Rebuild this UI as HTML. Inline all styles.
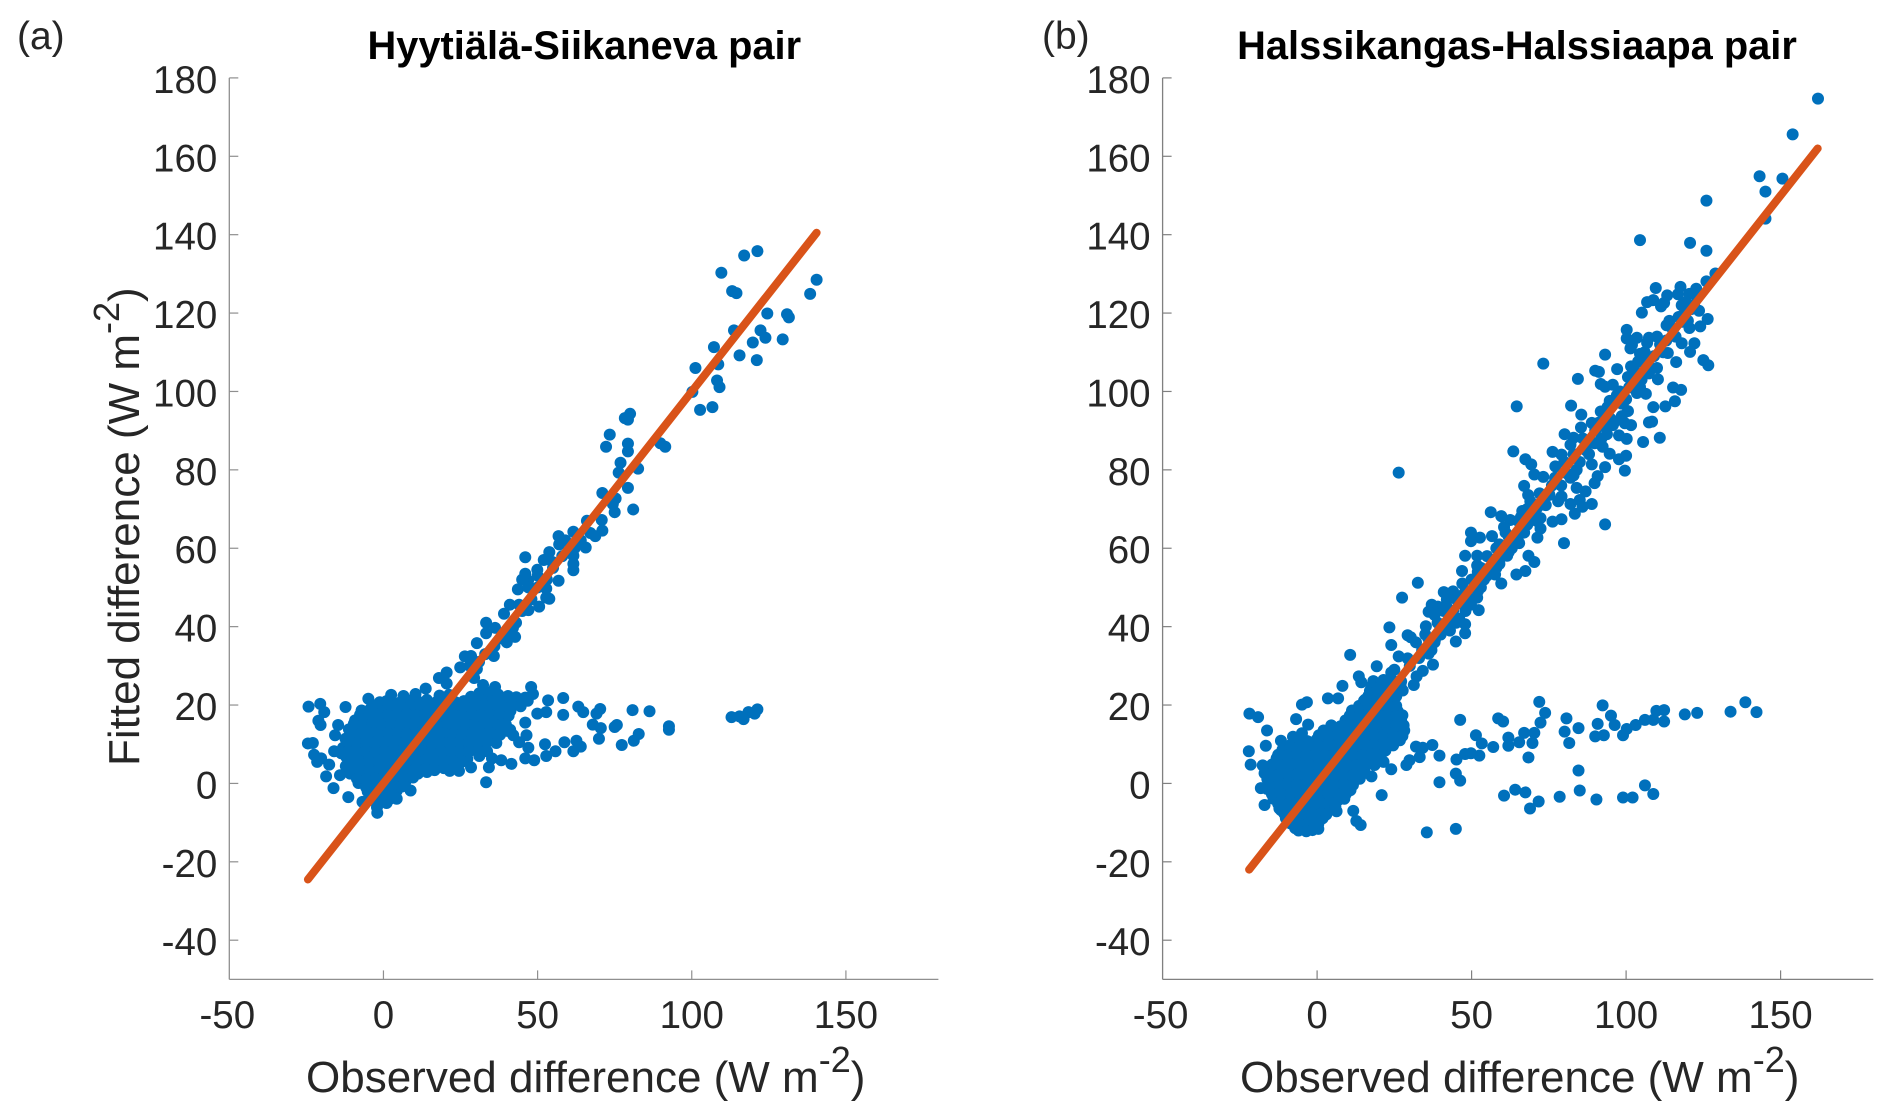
<!DOCTYPE html>
<html lang="en">
<head>
<meta charset="utf-8">
<title>Observed vs fitted difference</title>
<style>
html,body{margin:0;padding:0;background:#fff;}
svg{display:block;}
text{font-family:"Liberation Sans",Arial,sans-serif;fill:#262626;}
</style>
</head>
<body>
<svg id="figure" xmlns="http://www.w3.org/2000/svg" width="1892" height="1120" viewBox="0 0 1892 1120"></svg>
<script>
// ---------- shared tick labels ----------
const xTickValues = [-50, 0, 50, 100, 150];
const yTickValues = [-40, -20, 0, 20, 40, 60, 80, 100, 120, 140, 160, 180];

// ---------- panel (a) Hyytiälä-Siikaneva ----------
const aFitLineEnds = [-24.5, 140.5];
const aTrendObserved = [
121.3,117.0,109.6,140.5,138.4,113.1,114.5,124.5,130.9,131.5,
113.7,122.3,123.9,129.5,119.8,107.2,115.5,121.1,108.6,101.2,
108.2,109.0,100.2,106.7,102.7,80.0,78.3,79.3,73.4,72.2,
79.3,79.3,89.8,91.4,76.9,82.6,76.3,79.3,71.0,75.3,
74.4,75.0,81.0,70.8,71.0,68.7,67.1,61.6,56.8,65.6,
53.8,61.6,46.0,46.9,56.8,52.8,43.6,46.0,49.9,54.8,
61.6,61.6,52.8,53.8,41.0,44.0,47.0,50.5,39.1,33.3,
36.2,33.3,42.0,40.1,42.7,30.3,35.8,26.4,28.4,24.9,
30.3,29.4,18.0,20.5,
28,31,33,36,38,40,43,45,48,50,53,55,58,60,45,47,50,52,57,59,62,64,66];
const aTrendFitted = [
135.8,134.7,130.3,128.5,124.9,125.6,125.1,119.9,119.7,118.9,
115.6,115.6,113.7,113.3,112.5,111.3,109.2,108.0,106.9,106.0,
102.8,101.1,99.9,96.0,95.3,94.3,93.2,92.8,89.0,85.9,
86.7,84.7,86.8,85.9,81.8,80.3,79.3,75.4,74.1,72.7,
71.3,69.2,69.9,67.2,64.5,63.1,63.9,64.2,63.1,60.2,
59.0,58.1,57.7,51.7,51.7,49.7,49.5,53.5,54.5,56.5,
54.4,56.0,47.4,47.1,45.6,45.6,44.2,45.1,43.3,41.0,
39.7,38.3,39.7,37.8,37.4,35.8,32.5,32.4,32.5,29.6,
29.2,26.9,26.9,28.3,
30,31,33,35,37,36,41,44,47,50,52,55,58,59,52,50,53,57,61,62,60,62,67];
const aBranchObserved = [
121.3,120.4,118.4,116.8,115.5,112.9,92.6,92.6,86.3,80.8,
75.7,75.0,70.3,69.1,67.9,70.5,69.9,77.3,81.2,82.8,
53.4,58.3,63.2,64.8,58.3,47.9,48.5,46.0,52.8,49.9,
46.0,39.7,41.1,42.1,46.4,44.0,47.0,52.4,58.7,62.6,
64.0,61.6,55.8,52.8,48.9,46.0,41.5,38.2,34.2,33.3,
28.4,24.5,21.5,
-24.3,-20.5,-19.2,-12.3,-21.1,-20.4,-14.7,-15.7,-24.5,-22.9,
-22.5,-21.5,-20.2,-17.6,-18.6,-16.2,-11.4,-16.0,-13.7,-6.8,
-2.0,4.3,1.0,8.8,-4.9,2.5,1.0,6.5,10.4,13.7,20.5,32.3,36.2];
const aBranchFitted = [
18.9,17.8,18.2,16.4,17.1,16.9,14.6,13.7,18.4,18.7,
14.9,14.4,19.0,17.8,15.0,14.1,11.4,9.8,10.9,12.6,
21.2,21.8,19.6,18.2,17.5,24.6,22.8,21.9,18.2,17.8,
15.5,15.0,13.7,12.3,12.3,10.5,9.1,10.0,10.5,10.9,
9.4,8.2,8.2,7.0,5.9,6.4,5.0,5.9,4.1,0.3,
4.1,3.2,3.2,
19.6,20.3,18.2,19.5,16.0,14.9,14.9,12.3,10.2,10.3,
7.3,5.5,6.4,4.8,1.8,-1.2,-3.5,8.2,7.7,-4.7,
-7.5,-3.9,-5.0,-1.8,21.6,22.6,21.0,22.3,22.8,24.2,25.5,25.1,24.6];
const aCloudObserved = [
18.2,21.3,28.4,31.1,34.3,37.2,40.4,43.1,
-1.2,2.1,5.3,7.8,11.2,14.1,17.3,20.2,23.4,26.1,29.2,32.3,35.1,38.2,41.3,44.1,46.8,
-7.1,-4.2,-1.1,2.2,5.1,8.3,11.1,14.2,17.1,20.3,23.2,26.1,29.3,32.1,35.2,38.1,41.2,
-9.2,-6.1,-3.3,0.2,3.1,6.2,9.1,12.3,15.2,18.1,21.2,24.1,27.3,30.2,33.1,36.2,39.1,
-11.2,-8.1,-5.2,-2.1,1.1,4.2,7.1,10.3,13.2,16.1,19.2,22.1,25.3,28.2,31.1,34.2,37.1,40.2,
-12.3,-9.1,-6.2,-3.1,0.1,3.2,6.1,9.2,12.1,15.3,18.2,21.1,24.2,27.1,30.3,33.1,36.2,
-13.1,-10.2,-7.1,-4.2,-1.1,2.1,5.2,8.1,11.3,14.2,17.1,20.2,23.1,26.3,29.2,32.1,
-12.1,-9.2,-6.1,-3.2,0.1,3.1,6.2,9.1,12.2,15.1,18.3,21.2,24.1,27.2,31.1,35.2,
-12.2,-9.1,-6.2,-3.1,0.2,3.1,6.2,9.1,12.1,15.2,18.1,21.2,24.1,
-14.1,-10.8,-7.2,-4.1,-1.2,2.1,5.2,8.1,11.2,14.1,
-8.1,-5.2,-2.1,1.1,4.2,7.1,
-5.1,-2.2,1.1,4.3,
-4.2,-1.1,1.8,
-2.1];
const aCloudFitted = [
22.4,22.6,22.1,23.0,23.2,22.7,22.3,22.0,
20.7,21.1,20.6,21.2,20.9,21.3,20.8,21.1,20.7,21.0,20.6,21.2,20.9,20.5,21.0,20.4,21.1,
18.6,19.0,18.4,18.8,18.5,18.9,18.3,18.7,19.0,18.5,18.8,18.4,18.9,18.6,18.2,18.8,18.5,
16.1,16.5,16.0,16.4,16.2,16.6,16.1,16.3,16.7,16.0,16.4,16.2,16.6,16.1,16.3,16.5,16.0,
13.8,14.2,13.7,14.1,13.9,14.3,13.8,14.0,14.2,13.7,14.1,13.9,14.3,13.8,14.0,14.2,13.7,13.4,
11.4,11.8,11.3,11.7,11.5,11.9,11.4,11.6,11.8,11.3,11.7,11.5,11.9,11.4,11.6,11.8,11.3,
9.1,9.5,9.0,9.4,9.2,9.6,9.1,9.3,9.5,9.0,9.4,9.2,9.6,9.1,9.3,9.5,
6.8,7.2,6.7,7.1,6.9,7.3,6.8,7.0,7.2,6.7,7.1,6.9,6.6,6.2,7.0,6.4,
4.4,4.8,4.3,4.7,4.5,4.9,4.4,4.6,4.8,4.3,4.7,4.5,4.6,
2.1,2.5,2.2,2.4,2.0,2.6,2.1,2.3,2.5,2.9,
0.1,-0.2,0.3,0.0,0.2,0.4,
-2.1,-1.8,-2.3,-1.9,
-4.2,-4.4,-4.1,
-6.1];
const aCloudFillObserved = [
-3.5,-0.5,2.6,5.7,8.6,11.7,14.6,17.7,20.6,23.7,26.6,29.7,32.6,35.7,38.6,41.7,44.5,
-7.6,-4.6,-1.6,1.4,4.4,7.6,10.6,13.6,16.6,19.6,22.6,25.6,28.6,31.6,34.6,37.6,40.6,
-9.6,-6.6,-3.6,-0.6,2.4,5.6,8.6,11.6,14.6,17.6,20.6,23.6,26.6,29.6,32.6,35.6,38.6,
-10.6,-7.6,-4.6,-1.6,1.4,4.6,7.6,10.6,13.6,16.6,19.6,22.6,25.6,28.6,31.6,34.6,37.8,
-11.6,-8.6,-5.6,-2.6,0.4,3.6,6.6,9.6,12.6,15.6,18.6,21.6,24.6,27.6,30.6,33.6,36.6,
-11.6,-8.6,-5.6,-2.6,0.4,3.6,6.6,9.6,12.6,15.6,18.6,21.6,24.6,27.6,30.6,33.6,
-10.6,-7.6,-4.6,-1.6,1.4,4.6,7.6,10.6,13.6,16.6,19.6,22.6,25.6,
-10.6,-7.6,-4.6,-1.6,1.4,4.6,7.6,10.6,13.6,16.6,19.6,
-8.6,-5.6,-2.6,0.4,3.6,6.6,9.6,
-5.6,-2.6,0.4,3.6,6.0,
-3.6,-0.6,2.4];
const aCloudFillFitted = [
19.9,20.1,19.8,20.0,19.7,20.1,19.9,20.0,19.8,20.1,19.7,20.0,19.9,20.1,19.8,20.0,19.7,
17.5,17.3,17.6,17.4,17.5,17.7,17.3,17.5,17.6,17.4,17.5,17.3,17.6,17.4,17.5,17.6,17.3,
15.2,15.0,15.3,15.1,15.2,15.4,15.0,15.2,15.3,15.1,15.2,15.0,15.3,15.1,15.2,15.3,15.0,
12.8,12.6,12.9,12.7,12.8,13.0,12.6,12.8,12.9,12.7,12.8,12.6,12.9,12.7,12.8,12.9,12.4,
10.5,10.3,10.6,10.4,10.5,10.7,10.3,10.5,10.6,10.4,10.5,10.3,10.6,10.4,10.5,10.6,10.3,
8.1,7.9,8.2,8.0,8.1,8.3,7.9,8.1,8.2,8.0,8.1,7.9,8.2,8.0,8.1,8.2,
5.8,5.6,5.9,5.7,5.8,6.0,5.6,5.8,5.9,5.7,5.8,5.6,5.6,
3.5,3.3,3.6,3.4,3.5,3.7,3.3,3.5,3.6,3.4,3.9,
1.2,1.0,1.3,1.1,1.2,1.4,1.5,
-1.0,-1.2,-0.9,-1.1,-0.8,
-3.0,-3.2,-2.9];

// ---------- panel (b) Halssikangas-Halssiaapa ----------
const bFitLineEnds = [-22, 162];
const bTrendObserved = [
162.1,153.9,143.2,150.6,145.1,126.0,145.1,104.5,120.7,126.0,
128.9,126.0,109.6,117.6,122.7,113.3,116.8,120.5,106.8,108.8,
119.3,111.3,112.3,105.1,123.6,126.4,113.1,118.2,120.5,124.0,
100.2,100.2,103.5,107.4,101.9,106.8,118.0,122.1,101.4,104.5,
113.5,120.7,93.2,125.0,126.6,116.2,73.2,103.9,101.6,97.1,
90.0,91.2,110.0,107.4,100.6,110.3,84.4,91.8,95.7,93.2,
104.5,115.2,117.8,103.5,106.4,115.8,94.7,112.7,82.2,64.6,
108.8,91.8,98.6,85.5,108.4,107.4,100.6,98.6,99.6,101.6,
85.4,88.9,95.7,80.1,93.8,97.7,100.2,83.0,110.9,105.5,
82.0,89.8,92.4,63.5,76.2,79.1,94.7,100.0,97.7,67.4,
69.3,88.9,93.2,99.6,77.1,26.4,70.3,73.2,83.0,90.8,
77.1,89.8,67.0,84.0,68.3,86.9,75.2,79.1,85.0,88.9,
82.0,66.4,71.3,85.9,56.2,83.4,59.6,62.5,72.3,79.1,
76.2,93.2,49.8,72.3,60.5,56.6,52.7,63.5,71.3,49.8,
65.4,79.9,47.9,51.8,61.5,68.4,
46.9,51.8,59.6,64.5,67.4,70.3,57.6,32.6,27.5,41.0,
42.0,39.1,51.8,52.3,49.8,37.1,36.1,35.2,23.4,24.0,
29.3,30.3,42.0,47.9,47.9,44.9,38.1,10.7,37.5,36.1,
26.4,29.3,19.3,13.5,14.3,8.2,24.0,21.5,19.5,34.2,
32.2,31.3,27.7,3.5,6.8,-4.9,-3.3,15.6,
25,27,30,32,33,35,37,38,40,41,43,44,45,46,47,48,50,50,52,53,55,56,58,59,61,62,64,65,67,68,
70,72,74,76,78,80,82,84,86,88,90,92,94,96,98,100,102,104,106,108,110,112,114,116,118,120,122,
34,36,38,39,41,42,43,44,45,46,47,48,49,51,52,53,54,55,57,58,59,60,62,63,65,66,68,69,71,73,
75,77,79,81,83,85,87,89,91,93,95,97,99,101,103,105,107,109,111,113,115,117,119,121,123];
const bTrendFitted = [
174.7,165.6,154.9,154.3,151.0,148.7,144.1,138.6,137.9,135.9,
130.1,128.1,126.4,126.7,126.2,124.5,124.8,124.9,122.8,123.3,
122.8,121.7,122.6,120.1,120.6,118.5,116.9,117.8,116.2,116.6,
115.7,113.5,113.7,113.7,111.9,112.4,112.3,112.3,111.0,109.6,
109.8,110.1,109.4,108.0,106.7,107.5,107.1,107.6,106.4,105.7,
105.3,105.0,106.0,104.6,103.7,103.1,103.2,101.9,101.7,101.2,
101.1,101.0,100.4,99.6,99.4,97.5,97.6,96.2,96.4,96.2,
96.0,94.9,96.9,94.1,92.3,92.1,95.0,93.7,91.9,91.4,
90.8,92.0,91.4,89.1,89.1,88.8,87.9,88.2,88.2,87.1,
86.4,86.8,85.9,84.7,84.6,83.9,84.1,83.6,82.7,82.7,
81.4,81.4,80.7,79.8,80.9,79.3,78.8,78.2,78.6,78.4,
77.3,76.6,75.9,75.4,73.6,74.5,73.6,73.2,72.3,71.3,
71.3,69.5,70.4,70.6,69.2,68.8,68.2,67.2,67.7,67.4,
66.8,66.1,64.0,65.0,65.4,63.1,62.7,63.1,62.7,61.8,
61.3,61.3,58.1,58.1,58.1,58.1,
54.2,55.6,51.0,53.3,54.2,56.5,53.3,51.2,47.4,48.8,
46.9,45.1,47.4,44.2,45.6,45.6,43.8,40.1,39.8,35.3,
37.8,37.3,40.6,40.6,38.3,36.2,36.5,32.8,30.3,33.1,
32.4,31.9,29.9,27.3,25.8,24.9,28.3,26.4,24.2,28.7,
27.3,25.1,23.7,21.7,21.7,20.1,20.7,21.4,
29,25,30,36,32,38,34,43,38,44,42,49,41,46,51,44,52,47,54,50,58,54,60,56,64,59,62,67,64,70,
68,74,71,76,72,82,78,80,88,84,90,88,96,92,100,98,104,100,110,106,114,110,118,114,122,118,122,
34,37,36,41,40,45,39,44,47,42,48,49,46,50,49,55,52,53,57,55,61,58,63,60,63,68,66,72,67,72,
74,78,76,79,84,82,85,87,92,91,93,99,97,101,105,103,108,109,112,113,116,119,120,121,124];
const bBranchObserved = [
-6.8,-2.9,-4.9,-21.9,-19.1,-16.2,-16.6,-22.1,-21.5,-17.6,
-11.7,-7.8,-13.1,-17.0,-18.2,-14.6,-17.0,-11.7,
71.9,73.8,72.3,46.3,58.6,60.2,51.4,53.3,57.0,61.9,
61.9,67.0,65.4,70.3,69.7,68.4,80.7,80.1,84.6,81.6,
92.4,95.1,90.8,96.3,90.0,92.8,99.0,100.2,103.1,106.1,
108.8,109.8,112.3,112.3,119.0,123.0,133.8,138.6,142.2,
32.0,34.2,37.3,33.2,39.6,45.1,47.9,49.8,52.5,29.9,
28.9,24.0,21.5,17.6,
84.6,44.9,46.3,39.6,106.1,108.8,102.1,99.0,90.4,85.0,
78.5,71.7,68.9,67.4,64.1,60.5,20.9,11.7,12.7,14.1,
35.5,44.9,5.9,6.3];
const bBranchFitted = [
16.4,15.0,12.8,17.8,16.9,13.5,9.6,8.2,4.8,4.6,
10.9,11.9,6.4,2.6,-1.2,-2.7,-5.5,-6.8,
20.8,18.0,15.5,16.2,16.6,15.8,12.3,10.2,9.3,11.7,
9.6,12.9,10.5,12.9,10.3,6.6,16.6,13.2,14.1,10.3,
19.9,17.3,15.2,14.9,12.0,12.3,12.3,13.9,14.9,16.2,
16.2,18.5,18.7,15.8,17.6,18.0,18.3,20.7,18.2,
9.4,9.1,9.8,6.7,7.1,6.1,7.5,7.7,7.1,5.9,
4.7,3.6,5.5,1.8,
3.3,2.5,0.7,0.3,-0.5,-2.7,-3.6,-3.6,-4.1,-1.8,
-3.4,-4.6,-6.4,-2.3,-1.6,-3.1,-3.0,-7.0,-9.6,-10.6,
-12.5,-11.6,-5.9,-7.1];
const bCloudObserved = [
18.2,21.1,24.3,27.2,
17.1,20.2,23.1,26.3,
15.2,18.1,21.3,24.2,
11.3,14.2,17.1,20.2,23.3,26.1,
9.2,12.1,15.3,18.2,21.1,24.3,27.2,
2.1,5.2,8.1,11.3,14.2,17.1,20.3,23.2,26.1,28.2,
-6.1,-3.2,-0.1,3.2,6.1,9.2,12.1,15.3,18.2,21.1,24.2,26.8,
-11.2,-8.1,-5.2,-2.1,1.1,4.2,7.1,10.3,13.2,16.1,19.2,22.1,
-13.1,-10.2,-7.1,-4.2,-1.1,2.1,5.2,8.1,11.3,14.2,17.1,19.8,
-15.2,-12.1,-9.2,-6.1,-3.2,0.1,3.1,6.2,9.1,12.2,15.3,
-16.1,-13.2,-10.1,-7.2,-4.1,-1.2,2.1,5.2,8.1,11.3,13.8,
-16.2,-13.1,-10.2,-7.1,-4.2,-1.1,2.1,5.2,8.1,10.8,
-14.1,-11.2,-8.1,-5.2,-2.1,1.1,4.2,7.1,8.8,
-12.2,-9.1,-6.2,-3.1,0.2,3.1,5.2,
-10.1,-7.2,-4.1,-1.2,1.8,
-7.1,-4.2,-1.3,0.4];
const bCloudFitted = [
26.1,25.8,26.3,26.0,
23.6,23.3,23.8,23.5,
21.1,20.8,21.3,21.0,
18.6,18.3,18.8,18.5,18.7,18.4,
16.1,15.8,16.3,16.0,16.2,15.9,16.1,
13.5,13.8,13.4,13.7,13.5,13.8,13.4,13.6,13.8,13.5,
11.1,10.8,11.2,10.9,11.1,10.8,11.2,10.9,11.1,10.8,11.2,11.0,
8.6,8.3,8.7,8.4,8.6,8.3,8.7,8.4,8.6,8.3,8.7,8.4,
6.1,5.8,6.2,5.9,6.1,5.8,6.2,5.9,6.1,5.8,6.2,5.9,
3.6,3.3,3.7,3.4,3.6,3.3,3.7,3.4,3.6,3.3,3.7,
1.1,0.8,1.2,0.9,1.1,0.8,1.2,0.9,1.1,0.8,1.2,
-1.4,-1.7,-1.3,-1.6,-1.4,-1.7,-1.3,-1.6,-1.4,-1.7,
-3.9,-4.2,-3.8,-4.1,-3.9,-4.2,-3.8,-4.1,-3.9,
-6.4,-6.7,-6.3,-6.6,-6.4,-6.7,-6.3,
-8.9,-9.2,-8.8,-9.1,-8.9,
-11.4,-11.7,-11.3,-11.6];
const bCloudFillObserved = [
17.6,20.6,23.6,26.6,
16.6,19.6,22.6,25.6,
13.6,16.6,19.6,22.6,25.6,
10.6,13.6,16.6,19.6,22.6,25.6,27.6,
4.6,7.6,10.6,13.6,16.6,19.6,22.6,25.6,28.0,
0.6,3.6,6.6,9.6,12.6,15.6,18.6,21.6,24.6,27.6,
-8.6,-5.6,-2.6,0.4,3.6,6.6,9.6,12.6,15.6,18.6,21.6,24.6,
-12.6,-9.6,-6.6,-3.6,-0.6,2.6,5.6,8.6,11.6,14.6,17.6,20.6,
-14.6,-11.6,-8.6,-5.6,-2.6,0.4,3.6,6.6,9.6,12.6,15.6,18.6,
-15.6,-12.6,-9.6,-6.6,-3.6,-0.6,2.6,5.6,8.6,11.6,14.6,
-15.6,-12.6,-9.6,-6.6,-3.6,-0.6,2.6,5.6,8.6,11.6,
-14.6,-11.6,-8.6,-5.6,-2.6,0.4,3.6,6.6,9.3,
-12.6,-9.6,-6.6,-3.6,-0.6,2.6,5.0,
-10.6,-7.6,-4.6,-1.6,1.4,3.0,
-8.6,-5.6,-2.6,0.4,
-6.0,-3.5,-1.5];
const bCloudFillFitted = [
24.8,24.6,24.9,24.7,
22.3,22.1,22.4,22.2,
19.8,19.6,19.9,19.7,19.8,
17.3,17.1,17.4,17.2,17.3,17.1,17.4,
14.8,14.6,14.9,14.7,14.8,14.6,14.9,14.7,14.8,
12.3,12.1,12.4,12.2,12.3,12.1,12.4,12.2,12.3,12.1,
9.8,9.6,9.9,9.7,9.8,9.6,9.9,9.7,9.8,9.6,9.9,9.7,
7.3,7.1,7.4,7.2,7.3,7.1,7.4,7.2,7.3,7.1,7.4,7.2,
4.8,4.6,4.9,4.7,4.8,4.6,4.9,4.7,4.8,4.6,4.9,4.7,
2.3,2.1,2.4,2.2,2.3,2.1,2.4,2.2,2.3,2.1,2.4,
-0.2,-0.4,-0.1,-0.3,-0.2,-0.4,-0.1,-0.3,-0.2,-0.4,
-2.7,-2.9,-2.6,-2.8,-2.7,-2.9,-2.6,-2.8,-2.7,
-5.2,-5.4,-5.1,-5.3,-5.2,-5.4,-5.1,
-7.7,-7.9,-7.6,-7.8,-7.7,-7.9,
-10.2,-10.4,-10.1,-10.3,
-12.0,-12.2,-11.9];

const SVG_NS = 'http://www.w3.org/2000/svg';
const figure = document.getElementById('figure');

function makeAxisScale(domainA, domainB, pixelA, pixelB) {
  return function (value) {
    return pixelA + (value - domainA) * (pixelB - pixelA) / (domainB - domainA);
  };
}

function svgEl(tag, attrs, parent) {
  const el = document.createElementNS(SVG_NS, tag);
  for (const key in attrs) el.setAttribute(key, attrs[key]);
  parent.appendChild(el);
  return el;
}

function drawPanel(cfg) {
  const group = svgEl('g', {}, figure);
  
  

  const xScale = makeAxisScale(-50, 180, cfg.left, cfg.right);
  const yScale = makeAxisScale(-50, 180, 979.4, 77.9);
  const axisColor = cfg.axisColor;

  // points
  const pointsGroup = svgEl('g', { fill: '#0070BC' }, group);
  
  
  cfg.series.forEach(function (s) {
    s.x.forEach(function (xv, i) {
      const dot = svgEl('circle', { cx: xScale(xv), cy: yScale(s.y[i]), r: 6 }, pointsGroup);
      
      
    });
  });

  // 1:1 line
  const oneToOne = svgEl('line', {
    x1: xScale(cfg.lineEnds[0]), y1: yScale(cfg.lineEnds[0]),
    x2: xScale(cfg.lineEnds[1]), y2: yScale(cfg.lineEnds[1]),
    stroke: '#D95319', 'stroke-width': 8, 'stroke-linecap': 'round'
  }, group);
  
  

  // axes
  const yAxis = svgEl('line', { x1: cfg.left, y1: yScale(180), x2: cfg.left, y2: yScale(-50), stroke: axisColor, 'stroke-width': 1.3 }, group);
  
  
  const xAxis = svgEl('line', { x1: cfg.left, y1: yScale(-50), x2: cfg.right, y2: yScale(-50), stroke: axisColor, 'stroke-width': 1.3 }, group);
  
  

  xTickValues.forEach(function (v) {
    if (v !== -50) {
      const tick = svgEl('line', { x1: xScale(v), y1: yScale(-50), x2: xScale(v), y2: yScale(-50) - 9, stroke: axisColor, 'stroke-width': 1.2 }, group);
      
      
    }
    const label = svgEl('text', { x: xScale(v) - (v < 0 ? 2 : 0), y: 1028, 'font-size': 38.5, 'text-anchor': 'middle' }, group);
    label.textContent = String(v);
    
    
  });

  yTickValues.forEach(function (v) {
    const tick = svgEl('line', { x1: cfg.left, y1: yScale(v), x2: cfg.left + 9, y2: yScale(v), stroke: axisColor, 'stroke-width': 1.2 }, group);
    
    
    const label = svgEl('text', { x: cfg.left - 12, y: yScale(v) + 15, 'font-size': 38.5, 'text-anchor': 'end' }, group);
    label.textContent = String(v);
    
    
  });

  // title
  const title = svgEl('text', { x: cfg.titleX, y: 59, 'font-size': 39.8, 'font-weight': 'bold', 'text-anchor': 'middle', style: 'fill:#000' }, group);
  title.textContent = cfg.title;
  
  

  // panel letter
  const letter = svgEl('text', { x: cfg.letterX, y: 49, 'font-size': 39 }, group);
  letter.textContent = cfg.letter;
  
  
}

function addUnitLabel(parent, attrs, mainText, name) {
  const t = svgEl('text', attrs, parent);
  
  
  t.appendChild(document.createTextNode(mainText + ' (W m'));
  const sup = svgEl('tspan', { dy: -20, 'font-size': 36 }, t);
  sup.textContent = '-2';
  const close = svgEl('tspan', { dy: 20 }, t);
  close.textContent = ')';
  return t;
}

drawPanel({
  name: 'hyytiala-siikaneva',
  title: 'Hyytiälä-Siikaneva pair',
  letter: '(a)',
  letterX: 17,
  titleX: 584.3,
  left: 229.3,
  right: 938.4,
  axisColor: '#8f8f8f',
  lineEnds: aFitLineEnds,
  series: [
    { x: aCloudObserved, y: aCloudFitted },
    { x: aCloudFillObserved, y: aCloudFillFitted },
    { x: aBranchObserved, y: aBranchFitted },
    { x: aTrendObserved, y: aTrendFitted }
  ]
});

drawPanel({
  name: 'halssikangas-halssiaapa',
  title: 'Halssikangas-Halssiaapa pair',
  letter: '(b)',
  letterX: 1042,
  titleX: 1517,
  left: 1162.6,
  right: 1873.3,
  axisColor: '#808080',
  lineEnds: bFitLineEnds,
  series: [
    { x: bCloudObserved, y: bCloudFitted },
    { x: bCloudFillObserved, y: bCloudFillFitted },
    { x: bBranchObserved, y: bBranchFitted },
    { x: bTrendObserved, y: bTrendFitted }
  ]
});

addUnitLabel(figure, { x: 306, y: 1092, 'font-size': 44 }, 'Observed difference', 'x-axis-title-a');
addUnitLabel(figure, { x: 1240, y: 1092, 'font-size': 44 }, 'Observed difference', 'x-axis-title-b');
addUnitLabel(figure, { x: 0, y: 0, 'font-size': 44, transform: 'translate(139,766) rotate(-90)' }, 'Fitted difference', 'y-axis-title');
</script>
</body>
</html>
